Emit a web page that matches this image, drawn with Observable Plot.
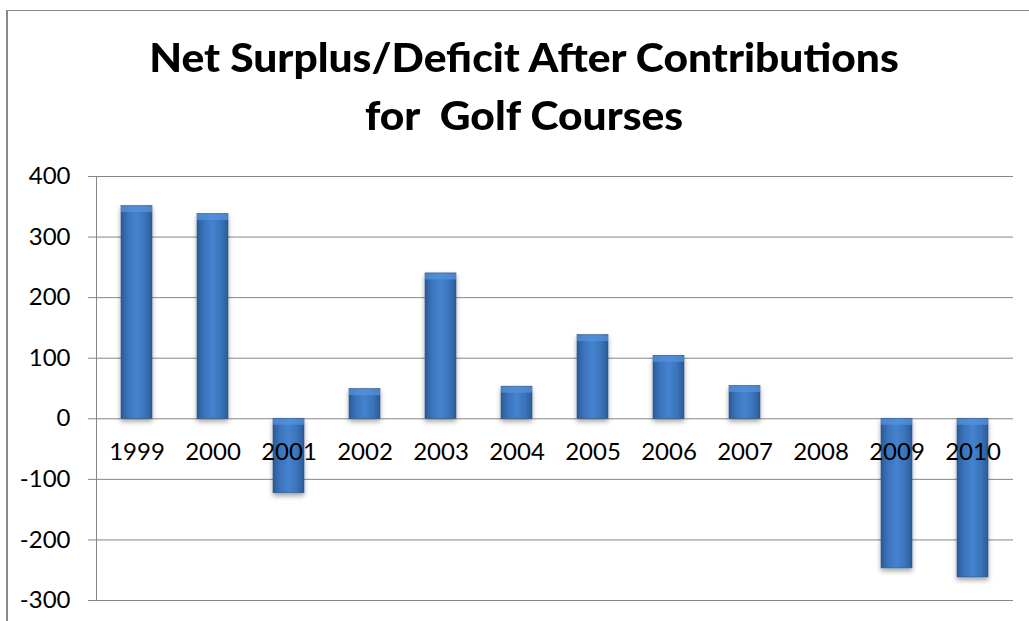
<!DOCTYPE html>
<html>
<head>
<meta charset="utf-8">
<script src="https://cdn.jsdelivr.net/npm/d3@7"></script>
<script src="https://cdn.jsdelivr.net/npm/@observablehq/plot@0.6"></script>
<style>
  html, body { margin: 0; padding: 0; background: #fff; width: 1029px; height: 621px; overflow: hidden; }
  #frame { position: absolute; left: 6px; top: 10px; width: 1023px; height: 611px;
           border-top: 1px solid #8a8a8a; border-left: 2px solid #8a8a8a; box-sizing: border-box; }
  .tline { position: absolute; left: 0; width: 1048px; text-align: center; white-space: pre;
           font-family: Lato, "Open Sans", sans-serif; font-weight: 900; line-height: 1; color: #000;
           transform-origin: 524px 0; }
  #chart { position: absolute; left: 0; top: 150px; }
</style>
</head>
<body>
<div id="frame"></div>
<div class="tline" id="t1"></div>
<div class="tline" id="t2"></div>
<div id="chart"></div>
<script>
const titleLines = ["Net Surplus/Deficit After Contributions", "for  Golf Courses"];
const years = ["1999","2000","2001","2002","2003","2004","2005","2006","2007","2008","2009","2010"];
const values = [351, 338, -123, 49, 240, 53, 138, 104, 54, 0, -247, -262];
const yTicks = [-300, -200, -100, 0, 100, 200, 300, 400];

const rows = years.map((year, i) => ({year, value: values[i]}));

// Title sizing: cap height ~28px, width ~752px for the first line
const F = 39;
const cvs = document.createElement("canvas").getContext("2d");
cvs.font = `900 ${F}px Lato`;
const sx = 752 / cvs.measureText(titleLines[0]).width;
const baselines = [73, 131];
["t1","t2"].forEach((id, i) => {
  const el = document.getElementById(id);
  el.textContent = titleLines[i];
  el.style.fontSize = F + "px";
  el.style.top = (baselines[i] - 0.887 * F) + "px";
  el.style.transform = `scaleX(${sx})`;
});

const chart = Plot.plot({
  width: 1029,
  height: 471,
  marginLeft: 96,
  marginRight: 16,
  marginTop: 26,
  marginBottom: 21,
  style: {fontFamily: "Lato, sans-serif", fontSize: "24px", color: "#000", background: "transparent", overflow: "visible"},
  x: {domain: years, paddingInner: 0.595, paddingOuter: 0.2975, axis: null},
  y: {domain: [-300, 400], axis: null},
  marks: [
    Plot.gridY(yTicks, {stroke: "#868686", strokeOpacity: 1}),
    Plot.axisY(yTicks, {tickSize: 8, tickPadding: 18, tickFormat: d => `${d}`, stroke: "#868686", fontSize: 24, label: null}),
    Plot.frame({anchor: "left", stroke: "#868686"}),
    Plot.barY(rows, {x: "year", y: "value", fill: "url(#barGrad)", stroke: "#2b5689", strokeWidth: 0.6}),
    Plot.tickY(rows.filter(d => d.value !== 0), {x: "year", y: d => Math.max(d.value, 0), dy: 3, stroke: "#5592dc", strokeWidth: 6, strokeOpacity: 0.75}),
    Plot.text(years, {x: d => d, y: 0, dy: 34, fontSize: 24, fill: "#000"})
  ]
});

const svg = d3.select(chart);
const defs = svg.insert("defs", ":first-child");
const g = defs.append("linearGradient").attr("id", "barGrad").attr("x1", "0").attr("x2", "1").attr("y1", "0").attr("y2", "0");
[["0%", "#2a5a94"], ["22%", "#3a73bb"], ["50%", "#4682cf"], ["78%", "#3a73bb"], ["100%", "#2a5a94"]]
  .forEach(([o, c]) => g.append("stop").attr("offset", o).attr("stop-color", c));
const f = defs.append("filter").attr("id", "shadow").attr("x", "-30%").attr("y", "-10%").attr("width", "160%").attr("height", "130%");
f.append("feDropShadow").attr("dx", 0).attr("dy", 3).attr("stdDeviation", 2.5).attr("flood-color", "#000").attr("flood-opacity", 0.35);
svg.selectAll("g[aria-label='bar']").attr("filter", "url(#shadow)");

document.getElementById("chart").appendChild(chart);
</script>
</body>
</html>
